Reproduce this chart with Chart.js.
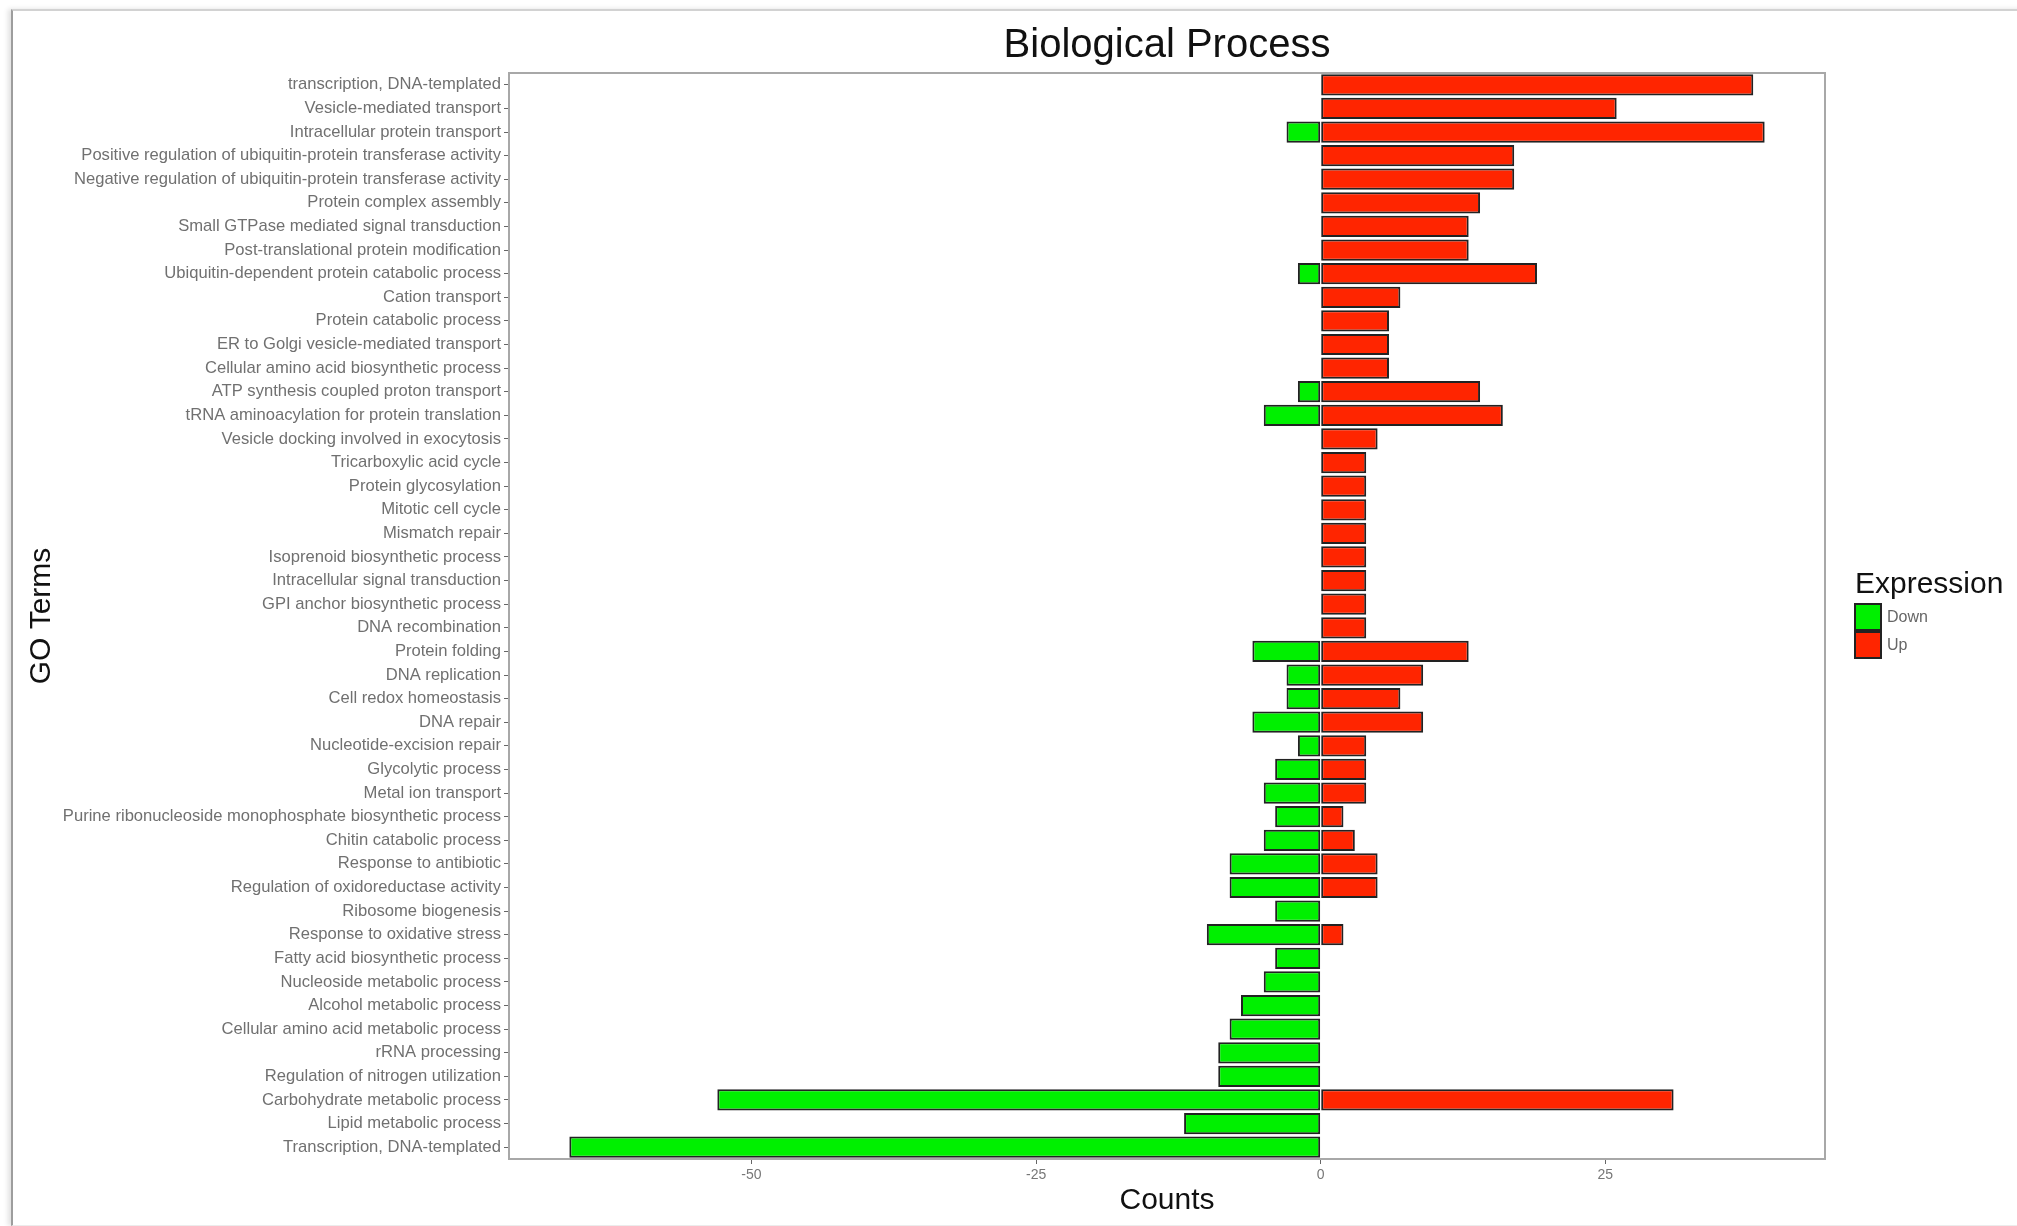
<!DOCTYPE html>
<html>
<head>
<meta charset="utf-8">
<title>Biological Process</title>
<script src="https://cdn.jsdelivr.net/npm/chart.js@4.4.1/dist/chart.umd.min.js"></script>
<style>
  html, body { margin: 0; padding: 0; background: #fff; }
  #wrap { position: relative; width: 2017px; height: 1226px; overflow: hidden; }
  #frame {
    position: absolute; left: 11px; top: 9px; width: 2100px; height: 1214px;
    border-left: 2px solid #9d9d9d; border-top: 2px solid #d2d2d2; border-bottom: 1px solid #ececec;
    box-shadow: -3px 0 5px rgba(0, 0, 0, 0.12);
  }
  #chartBox { position: absolute; left: 0; top: 0; width: 2017px; height: 1226px; }
</style>
</head>
<body>
<div id="wrap">
  <div id="frame"></div>
  <div id="chartBox"><canvas id="goChart"></canvas></div>
</div>
<script>
// GO terms, top to bottom
const goTerms = [
  'transcription, DNA-templated',
  'Vesicle-mediated transport',
  'Intracellular protein transport',
  'Positive regulation of ubiquitin-protein transferase activity',
  'Negative regulation of ubiquitin-protein transferase activity',
  'Protein complex assembly',
  'Small GTPase mediated signal transduction',
  'Post-translational protein modification',
  'Ubiquitin-dependent protein catabolic process',
  'Cation transport',
  'Protein catabolic process',
  'ER to Golgi vesicle-mediated transport',
  'Cellular amino acid biosynthetic process',
  'ATP synthesis coupled proton transport',
  'tRNA aminoacylation for protein translation',
  'Vesicle docking involved in exocytosis',
  'Tricarboxylic acid cycle',
  'Protein glycosylation',
  'Mitotic cell cycle',
  'Mismatch repair',
  'Isoprenoid biosynthetic process',
  'Intracellular signal transduction',
  'GPI anchor biosynthetic process',
  'DNA recombination',
  'Protein folding',
  'DNA replication',
  'Cell redox homeostasis',
  'DNA repair',
  'Nucleotide-excision repair',
  'Glycolytic process',
  'Metal ion transport',
  'Purine ribonucleoside monophosphate biosynthetic process',
  'Chitin catabolic process',
  'Response to antibiotic',
  'Regulation of oxidoreductase activity',
  'Ribosome biogenesis',
  'Response to oxidative stress',
  'Fatty acid biosynthetic process',
  'Nucleoside metabolic process',
  'Alcohol metabolic process',
  'Cellular amino acid metabolic process',
  'rRNA processing',
  'Regulation of nitrogen utilization',
  'Carbohydrate metabolic process',
  'Lipid metabolic process',
  'Transcription, DNA-templated'
];

// down-regulated counts (negative), null where there are none
const downCounts = [
  null, null, -3, null, null, null, null, null, -2, null,
  null, null, null, -2, -5, null, null, null, null, null,
  null, null, null, null, -6, -3, -3, -6, -2, -4,
  -5, -4, -5, -8, -8, -4, -10, -4, -5, -7,
  -8, -9, -9, -53, -12, -66
];

// up-regulated counts
const upCounts = [
  38, 26, 39, 17, 17, 14, 13, 13, 19, 7,
  6, 6, 6, 14, 16, 5, 4, 4, 4, 4,
  4, 4, 4, 4, 13, 9, 7, 9, 4, 4,
  4, 2, 3, 5, 5, null, 2, null, null, null,
  null, null, null, 31, null, null
];

const countTicks = [-50, -25, 0, 25];

const FONT = "'Liberation Sans', Arial, Helvetica, sans-serif";
Chart.defaults.font.family = FONT;

// panel border around the plotting area
const panelBorder = {
  id: 'panelBorder',
  beforeDatasetsDraw(chart) {
    const { ctx, chartArea: a } = chart;
    ctx.save();
    ctx.strokeStyle = '#a8a8a8';
    ctx.lineWidth = 2;
    ctx.strokeRect(a.left, a.top, a.right - a.left, a.bottom - a.top);
    ctx.restore();
  }
};

// main title centred over the panel
const plotTitle = {
  id: 'plotTitle',
  afterDraw(chart) {
    const { ctx, chartArea: a } = chart;
    ctx.save();
    ctx.fillStyle = '#111';
    ctx.font = '40px ' + FONT;
    ctx.textAlign = 'center';
    ctx.textBaseline = 'middle';
    ctx.fillText('Biological Process', (a.left + a.right) / 2, 46);
    ctx.restore();
  }
};

// legend on the right: title plus stacked keys
const sideLegend = {
  id: 'sideLegend',
  afterDraw(chart) {
    const { ctx, chartArea: a } = chart;
    const x = a.right + 30;
    ctx.save();
    ctx.fillStyle = '#111';
    ctx.font = '30px ' + FONT;
    ctx.textBaseline = 'middle';
    ctx.fillText('Expression', x, 585);
    chart.data.datasets.forEach((ds, i) => {
      const y = 604 + i * 28;
      ctx.fillStyle = ds.backgroundColor;
      ctx.fillRect(x, y, 26, 26);
      ctx.strokeStyle = '#222';
      ctx.lineWidth = 2;
      ctx.strokeRect(x, y, 26, 26);
      ctx.fillStyle = '#666';
      ctx.font = '16px ' + FONT;
      ctx.fillText(ds.label, x + 32, y + 14);
    });
    ctx.restore();
  }
};

const ctx = document.getElementById('goChart').getContext('2d');
new Chart(ctx, {
  type: 'bar',
  data: {
    labels: goTerms,
    datasets: [
      {
        label: 'Down',
        data: downCounts,
        backgroundColor: '#00f000',
        borderColor: '#222',
        borderWidth: 2,
        borderSkipped: false,
        barPercentage: 0.9,
        categoryPercentage: 1.0
      },
      {
        label: 'Up',
        data: upCounts,
        backgroundColor: '#ff2500',
        borderColor: '#222',
        borderWidth: 2,
        borderSkipped: false,
        barPercentage: 0.9,
        categoryPercentage: 1.0
      }
    ]
  },
  options: {
    indexAxis: 'y',
    responsive: true,
    maintainAspectRatio: false,
    animation: false,
    layout: { padding: { top: 73, right: 192, left: 0, bottom: 0 } },
    plugins: {
      legend: { display: false },
      tooltip: { enabled: false }
    },
    scales: {
      x: {
        stacked: true,
        min: -71.3,
        max: 44.3,
        afterBuildTicks(scale) {
          scale.ticks = countTicks.map(v => ({ value: v }));
        },
        afterFit(scale) { scale.height = 67; },
        grid: {
          drawOnChartArea: false,
          drawTicks: true,
          tickLength: 5,
          color: '#666'
        },
        border: { display: false },
        ticks: {
          color: '#777',
          font: { size: 14 },
          padding: 3,
          maxRotation: 0
        },
        title: {
          display: true,
          text: 'Counts',
          color: '#111',
          font: { size: 30 },
          padding: { top: 0, bottom: 7 }
        }
      },
      y: {
        stacked: true,
        offset: true,
        afterFit(scale) { scale.width = 509; },
        grid: {
          offset: false,
          drawOnChartArea: false,
          drawTicks: true,
          tickLength: 5,
          color: '#666'
        },
        border: { display: false },
        ticks: {
          color: '#707070',
          font: { size: 16.6 },
          padding: 3,
          autoSkip: false
        },
        title: {
          display: true,
          text: 'GO Terms',
          color: '#111',
          font: { size: 30 },
          padding: { top: 24, bottom: 0 }
        }
      }
    }
  },
  plugins: [panelBorder, plotTitle, sideLegend]
});
</script>
</body>
</html>
